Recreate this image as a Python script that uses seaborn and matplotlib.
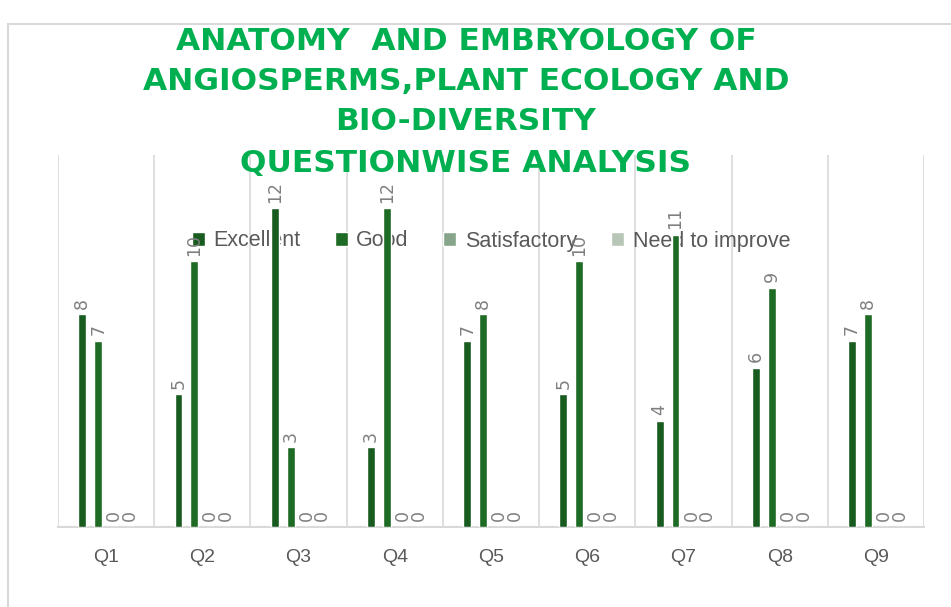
import matplotlib
matplotlib.use("Agg")
import matplotlib.pyplot as plt
import seaborn as sns
import pandas as pd
from matplotlib.patches import Rectangle

questions = ["Q1", "Q2", "Q3", "Q4", "Q5", "Q6", "Q7", "Q8", "Q9"]
excellent = [8, 5, 12, 3, 7, 5, 4, 6, 7]
good = [7, 10, 3, 12, 8, 10, 11, 9, 8]
satisfactory = [0, 0, 0, 0, 0, 0, 0, 0, 0]
need_improve = [0, 0, 0, 0, 0, 0, 0, 0, 0]
series_names = ["Excellent", "Good", "Satisfactory", "Need to improve"]
title_lines = ["ANATOMY  AND EMBRYOLOGY OF", "ANGIOSPERMS,PLANT ECOLOGY AND",
               "BIO-DIVERSITY", "QUESTIONWISE ANALYSIS"]

colors = ["#185c20", "#1d6b25", "#86a58a", "#b8c6b8"]

rows = []
for name, vals in zip(series_names, [excellent, good, satisfactory, need_improve]):
    for q, v in zip(questions, vals):
        rows.append({"Question": q, "Count": v, "Rating": name})
df = pd.DataFrame(rows)

sns.set_theme(style="white")
plt.rcParams['font.family'] = ['Liberation Sans', 'DejaVu Sans']

W, H = 951, 607
fig = plt.figure(figsize=(W / 100, H / 100), dpi=100)
ax = fig.add_axes([58 / W, 1 - 527 / H, (924 - 58) / W, (527 - 155) / H])

sns.barplot(data=df, x="Question", y="Count", hue="Rating", hue_order=series_names,
            palette=colors, width=0.66, gap=0.5, ax=ax, zorder=3, saturation=1)

for cont in ax.containers:
    ax.bar_label(cont, rotation=90, padding=4, color="#7f7f7f", fontsize=12.5,
                 family=["DejaVu Sans"], zorder=4)

ax.set_ylim(0, 14)
ax.set_xlim(-0.5, len(questions) - 0.5)
ax.set_yticks([])
ax.set_xlabel("")
ax.set_ylabel("")
for x in [i - 0.5 for i in range(len(questions) + 1)]:
    ax.axvline(x, color="#d9d9d9", lw=1.2, zorder=0)
for s in ["top", "right", "left"]:
    ax.spines[s].set_visible(False)
ax.spines["bottom"].set_color("#d9d9d9")
ax.spines["bottom"].set_linewidth(1.5)
ax.tick_params(axis="x", length=0, pad=16, labelsize=14, labelcolor="#595959")

handles, labels = ax.get_legend_handles_labels()
leg = ax.legend(handles, labels, loc="center", bbox_to_anchor=(491 / W, 1 - 241 / H),
                bbox_transform=fig.transFigure, ncol=4, frameon=False, fontsize=15.5,
                handlelength=0.6, handleheight=0.6, handletextpad=0.4,
                columnspacing=1.6, labelcolor="#595959")
leg.set_zorder(1)

# chart border
fig.patches.append(Rectangle((8 / W, -0.1), 1.2, 1 - 24 / H + 0.1, transform=fig.transFigure,
                             fill=False, edgecolor="#d9d9d9", lw=1.5, zorder=0))

ys = [41, 81, 122, 163]
for line, y in zip(title_lines, ys):
    fig.text(466 / W, 1 - y / H, line, ha="center", va="center", color="#00b050",
             fontsize=22.5, fontweight="bold", family=["DejaVu Sans"])

fig.savefig("out.png", dpi=100)
